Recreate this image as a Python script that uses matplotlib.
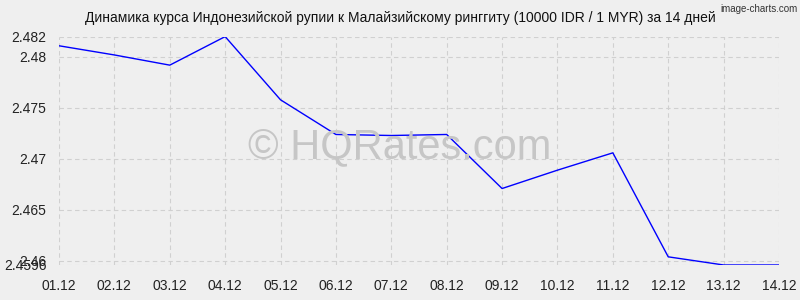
import matplotlib.pyplot as plt

# data
dates = ['01.12', '02.12', '03.12', '04.12', '05.12', '06.12', '07.12',
         '08.12', '09.12', '10.12', '11.12', '12.12', '13.12', '14.12']
rates = [2.4811, 2.4802, 2.4792, 2.4820, 2.4758, 2.4724, 2.4723,
         2.4724, 2.4671, 2.4689, 2.4706, 2.4604, 2.4596, 2.4596]
yticks = [2.4596, 2.46, 2.465, 2.47, 2.475, 2.48, 2.482]
ytick_labels = ['2.4596', '2.46', '2.465', '2.47', '2.475', '2.48', '2.482']

title = 'Динамика курса Индонезийской рупии к Малайзийскому ринггиту (10000 IDR / 1 MYR) за 14 дней'

plt.rcParams['font.family'] = ['Liberation Sans', 'DejaVu Sans']

bg = '#efefef'
fig = plt.figure(figsize=(8, 3), dpi=100, facecolor=bg)
ax = fig.add_axes([0.07375, 0.1167, 0.9, 0.7613], facecolor=bg)

x = list(range(len(dates)))
ax.plot(x, rates, color='#0000ff', linewidth=1, zorder=3)

ax.set_xlim(0, len(dates) - 1)
ax.set_ylim(yticks[0], yticks[-1])
ax.set_xticks(x)
ax.set_xticklabels(dates)
ax.set_yticks(yticks)
ax.set_yticklabels(ytick_labels)
ax.tick_params(length=0, labelsize=10, colors='#222222')
ax.tick_params(axis='y', pad=9)
ax.tick_params(axis='x', pad=10)
for s in ax.spines.values():
    s.set_visible(False)
ax.grid(True, color='#d0d0d0', linestyle=(0, (4, 3)), linewidth=0.8)

fig.text(0.5, 0.51, '© HQRates.com', ha='center', va='center',
         fontsize=30, color='#c6c6c6', zorder=1)

fig.text(0.5, 0.94, title, ha='center', va='center', fontsize=10, color='#111111')
fig.text(0.997, 0.985, 'image-charts.com', ha='right', va='top', fontsize=7,
         color='#333333')

fig.savefig('out.png', dpi=100, facecolor=bg)
